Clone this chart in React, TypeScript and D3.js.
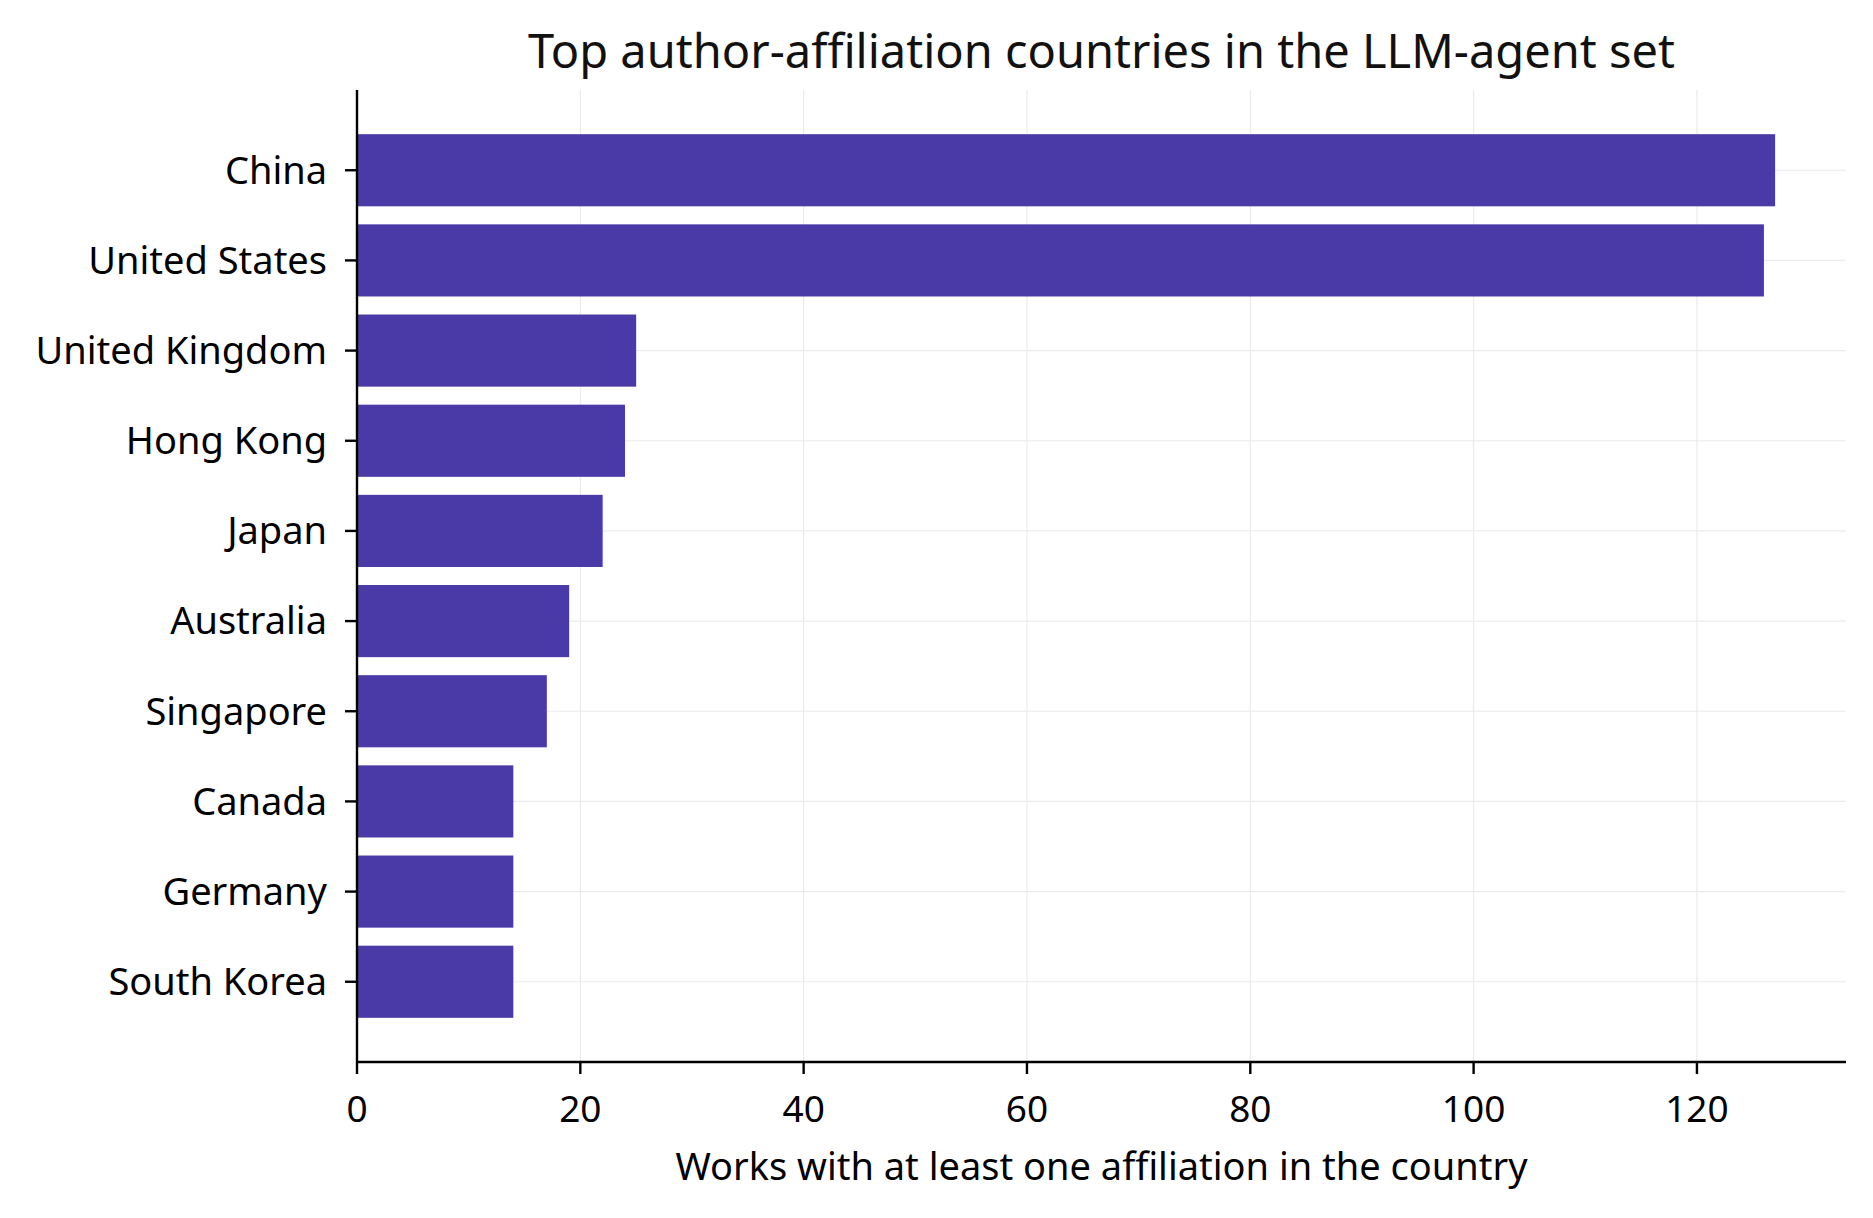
import * as d3 from 'd3'

const countries = ['China', 'United States', 'United Kingdom', 'Hong Kong', 'Japan', 'Australia', 'Singapore', 'Canada', 'Germany', 'South Korea']
const works = [127, 126, 25, 24, 22, 19, 17, 14, 14, 14]
const xTicks = [0, 20, 40, 60, 80, 100, 120]

export default function App() {
  const width = 1873
  const height = 1218
  const margin = { top: 90, right: 27, bottom: 156, left: 357 }
  const innerW = width - margin.left - margin.right
  const innerH = height - margin.top - margin.bottom
  const font = '"Noto Sans", "Open Sans", sans-serif'

  const x = d3.scaleLinear().domain([0, 127 * 1.05]).range([0, innerW])
  const y = d3.scaleLinear().domain([-0.89, 9.89]).range([0, innerH])
  const barH = y(0.8) - y(0)

  return (
    <svg width={width} height={height} style={{ display: 'block', margin: -8 }} fontFamily={font}>
      <rect width={width} height={height} fill="#fff" />
      <text x={margin.left + innerW / 2} y={68} textAnchor="middle" fontSize={47} fill="#111">
        Top author-affiliation countries in the LLM-agent set
      </text>
      <g transform={`translate(${margin.left},${margin.top})`}>
        {xTicks.map(t => (
          <line key={'gx' + t} x1={x(t)} x2={x(t)} y1={0} y2={innerH} stroke="#ebebeb" strokeWidth={1.2} />
        ))}
        {countries.map((c, i) => (
          <line key={'gy' + c} x1={0} x2={innerW} y1={y(i)} y2={y(i)} stroke="#ebebeb" strokeWidth={1.2} />
        ))}
        {countries.map((c, i) => (
          <rect key={c} x={x(0)} y={y(i) - barH / 2} width={x(works[i]) - x(0)} height={barH} fill="#4a3aa7" />
        ))}
        <line x1={0} x2={0} y1={0} y2={innerH} stroke="#000" strokeWidth={2.4} />
        <line x1={0} x2={innerW} y1={innerH} y2={innerH} stroke="#000" strokeWidth={2.4} />
        {countries.map((c, i) => (
          <g key={'yl' + c} transform={`translate(0,${y(i)})`}>
            <line x1={-12} x2={0} stroke="#000" strokeWidth={2.4} />
            <text x={-30} dy="0.35em" textAnchor="end" fontSize={38} fill="#000">{c}</text>
          </g>
        ))}
        {xTicks.map(t => (
          <g key={'xl' + t} transform={`translate(${x(t)},${innerH})`}>
            <line y1={0} y2={12} stroke="#000" strokeWidth={2.4} />
            <text y={60} textAnchor="middle" fontSize={37} fill="#000">{t}</text>
          </g>
        ))}
        <text x={innerW / 2} y={innerH + 118} textAnchor="middle" fontSize={38} fill="#000">
          Works with at least one affiliation in the country
        </text>
      </g>
    </svg>
  )
}
